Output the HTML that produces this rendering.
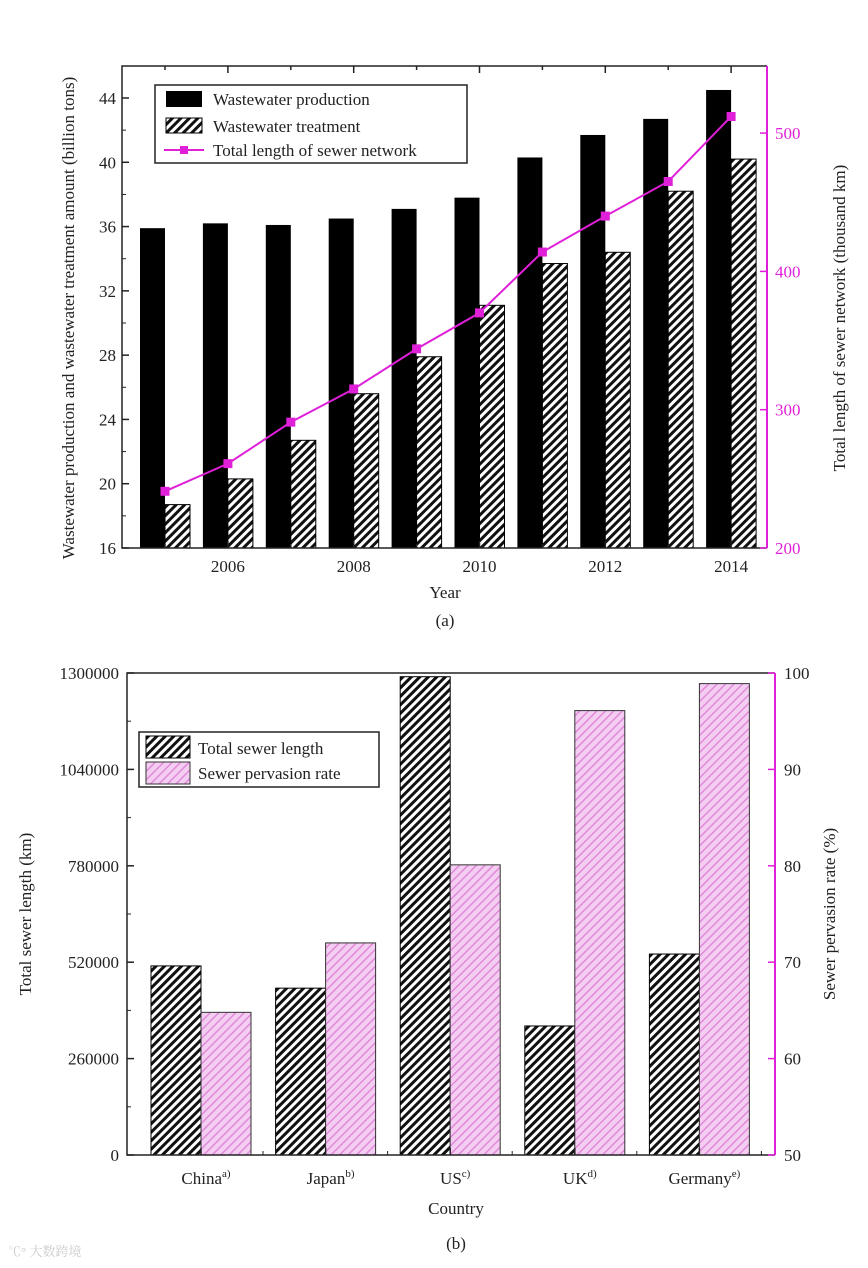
<!DOCTYPE html>
<html><head><meta charset="utf-8"><style>
html,body{margin:0;padding:0;background:#fff;}
svg{display:block;font-family:"Liberation Serif","Noto Serif CJK SC",serif;}
</style></head><body>
<svg id="c" width="868" height="1268" viewBox="0 0 868 1268">
<defs>
<pattern id="hb" patternUnits="userSpaceOnUse" width="6" height="6" patternTransform="rotate(45)"><rect width="6" height="6" fill="#fff"/><rect width="3" height="6" fill="#111"/></pattern>
<pattern id="hp" patternUnits="userSpaceOnUse" width="6" height="6" patternTransform="rotate(45)"><rect width="6" height="6" fill="#f4cdf2"/><rect width="1.5" height="6" fill="#e08ad8"/></pattern>
</defs>
</svg>
<script>
const years=[2005,2006,2007,2008,2009,2010,2011,2012,2013,2014];
const production=[35.9,36.2,36.1,36.5,37.1,37.8,40.3,41.7,42.7,44.5];
const treatment=[18.7,20.3,22.7,25.6,27.9,31.1,33.7,34.4,38.2,40.2];
const sewerNet=[241,261,291,315,344,370,414,440,465,512];
const leftTicksA=[16,20,24,28,32,36,40,44];
const rightTicksA=[200,300,400,500];
const xTicksA=[2006,2008,2010,2012,2014];
const countries=["China","Japan","US","UK","Germany"];
const sups=["a)","b)","c)","d)","e)"];
const sewerLen=[510000,450000,1290000,348000,542000];
const pervRate=[64.8,72,80.1,96.1,98.9];
const leftTicksB=[0,260000,520000,780000,1040000,1300000];
const rightTicksB=[50,60,70,80,90,100];

const svg=document.getElementById('c');const NS='http://www.w3.org/2000/svg';
function el(t,a,p,name){const e=document.createElementNS(NS,t);for(const k in a)e.setAttribute(k,a[k]);


(p||svg).appendChild(e);return e;}
function tx(x,y,s,a,name){const e=el('text',Object.assign({x:x,y:y,'font-size':17,fill:'#222'},a||{}),null,name);e.textContent=s;return e;}

// ---- chart A ----
const A={l:122,r:767,t:66,b:548};
const xa=v=>165+(v-2005)*62.9;
const ya=v=>548-(v-16)*(450/28);
const yr=v=>548-(v-200)*1.383;
years.forEach((y,i)=>{
 el('rect',{x:xa(y)-25,y:ya(production[i]),width:25,height:A.b-ya(production[i]),fill:'#000'},null,'bar-production-'+y);
 el('rect',{x:xa(y),y:ya(treatment[i]),width:25,height:A.b-ya(treatment[i]),fill:'url(#hb)',stroke:'#000','stroke-width':1},null,'bar-treatment-'+y);
});
el('polyline',{points:years.map((y,i)=>xa(y)+','+yr(sewerNet[i])).join(' '),fill:'none',stroke:'#e020d8','stroke-width':2},null,'sewer-network-line');
years.forEach((y,i)=>el('rect',{x:xa(y)-4.5,y:yr(sewerNet[i])-4.5,width:9,height:9,fill:'#e020d8'},null,'sewer-point-'+y));
el('path',{d:`M${A.r},${A.t}H${A.l}V${A.b}H${A.r}`,fill:'none',stroke:'#222','stroke-width':1.5},null,'frame-a');
el('line',{x1:A.r,y1:A.t,x2:A.r,y2:A.b,stroke:'#e020d8','stroke-width':2},null,'right-axis-a');
leftTicksA.forEach(v=>{el('line',{x1:A.l,y1:ya(v),x2:A.l+7,y2:ya(v),stroke:'#222','stroke-width':1.5},null,'left-tick-a');tx(A.l-6,ya(v)+6,String(v),{'text-anchor':'end'},'left-tick-label-a');});
for(let v=18;v<46;v+=4)el('line',{x1:A.l,y1:ya(v),x2:A.l+4,y2:ya(v),stroke:'#222'},null,'minor-tick-a');
rightTicksA.forEach(v=>{el('line',{x1:A.r,y1:yr(v),x2:A.r-7,y2:yr(v),stroke:'#e020d8','stroke-width':1.5},null,'right-tick-a');tx(A.r+8,yr(v)+6,String(v),{fill:'#e020d8'},'right-tick-label-a');});
years.forEach(y=>{el('line',{x1:xa(y),y1:A.b,x2:xa(y),y2:A.b-(y%2?4:7),stroke:'#222','stroke-width':1.5},null,'x-tick-a');el('line',{x1:xa(y),y1:A.t,x2:xa(y),y2:A.t+(y%2?4:7),stroke:'#222','stroke-width':1.5},null,'x-tick-top-a');});
xTicksA.forEach(y=>tx(xa(y),572,String(y),{'text-anchor':'middle'},'x-tick-label-a'));
tx(445,598,'Year',{'text-anchor':'middle'},'x-axis-title-a');
tx(445,626,'(a)',{'text-anchor':'middle'},'caption-a');
tx(0,0,'Wastewater production and wastewater treatment amount (billion tons)',{'text-anchor':'middle',transform:'translate(74,318) rotate(-90)'},'y-axis-title-a');
tx(0,0,'Total length of sewer network (thousand km)',{'text-anchor':'middle',transform:'translate(845,318) rotate(-90)'},'y2-axis-title-a');
el('rect',{x:155,y:85,width:312,height:78,fill:'#fff',stroke:'#222','stroke-width':1.5},null,'legend-a');
el('rect',{x:166,y:91,width:36,height:16,fill:'#000'},null,'legend-swatch-production');
tx(213,105,'Wastewater production',{},'legend-label-production');
el('rect',{x:166,y:118,width:36,height:15,fill:'url(#hb)',stroke:'#000'},null,'legend-swatch-treatment');
tx(213,132,'Wastewater treatment',{},'legend-label-treatment');
el('line',{x1:164,y1:150,x2:204,y2:150,stroke:'#e020d8','stroke-width':2},null,'legend-line-sewer');
el('rect',{x:180,y:146,width:8,height:8,fill:'#e020d8'},null,'legend-marker-sewer');
tx(213,156,'Total length of sewer network',{},'legend-label-sewer');

// ---- chart B ----
const B={l:127,r:775,t:673,b:1155};
const xb=i=>201+i*124.6;
const yb=v=>1155-v*(482/1300000);
const yp=v=>1155-(v-50)*(482/50);
countries.forEach((c,i)=>{
 el('rect',{x:xb(i)-50,y:yb(sewerLen[i]),width:50,height:B.b-yb(sewerLen[i]),fill:'url(#hb)',stroke:'#000'},null,'bar-length-'+c);
 el('rect',{x:xb(i),y:yp(pervRate[i]),width:50,height:B.b-yp(pervRate[i]),fill:'url(#hp)',stroke:'#333'},null,'bar-rate-'+c);
 const t=tx(xb(i)+5,1184,c,{'text-anchor':'middle'},'x-tick-label-b');
 const s=document.createElementNS(NS,'tspan');s.setAttribute('dy','-7');s.setAttribute('font-size','11');s.textContent=sups[i];t.appendChild(s);
 el('line',{x1:xb(i),y1:B.b,x2:xb(i),y2:B.b-7,stroke:'#222','stroke-width':1.5},null,'x-tick-b');
 el('line',{x1:xb(i)+62,y1:B.b,x2:xb(i)+62,y2:B.b-4,stroke:'#222'},null,'x-minor-tick-b');
});
el('path',{d:`M${B.r},${B.t}H${B.l}V${B.b}H${B.r}`,fill:'none',stroke:'#222','stroke-width':1.5},null,'frame-b');
el('line',{x1:B.r,y1:B.t,x2:B.r,y2:B.b,stroke:'#e020d8','stroke-width':2},null,'right-axis-b');
leftTicksB.forEach(v=>{el('line',{x1:B.l,y1:yb(v),x2:B.l+7,y2:yb(v),stroke:'#222','stroke-width':1.5},null,'left-tick-b');tx(B.l-8,yb(v)+6,String(v),{'text-anchor':'end'},'left-tick-label-b');});
for(let v=130000;v<1300000;v+=260000)el('line',{x1:B.l,y1:yb(v),x2:B.l+4,y2:yb(v),stroke:'#222'},null,'minor-tick-b');
rightTicksB.forEach(v=>{el('line',{x1:B.r,y1:yp(v),x2:B.r-7,y2:yp(v),stroke:'#e020d8','stroke-width':1.5},null,'right-tick-b');tx(B.r+9,yp(v)+6,String(v),{},'right-tick-label-b');});
tx(456,1214,'Country',{'text-anchor':'middle'},'x-axis-title-b');
tx(456,1249,'(b)',{'text-anchor':'middle'},'caption-b');
tx(0,0,'Total sewer length (km)',{'text-anchor':'middle',transform:'translate(31,914) rotate(-90)'},'y-axis-title-b');
tx(0,0,'Sewer pervasion rate (%)',{'text-anchor':'middle',transform:'translate(835,914) rotate(-90)'},'y2-axis-title-b');
el('rect',{x:139,y:732,width:240,height:55,fill:'#fff',stroke:'#222','stroke-width':1.5},null,'legend-b');
el('rect',{x:146,y:736,width:44,height:22,fill:'url(#hb)',stroke:'#000'},null,'legend-swatch-length');
tx(198,754,'Total sewer length',{},'legend-label-length');
el('rect',{x:146,y:762,width:44,height:22,fill:'url(#hp)',stroke:'#333'},null,'legend-swatch-rate');
tx(198,779,'Sewer pervasion rate',{},'legend-label-rate');
tx(8,1256,'℃° 大数跨境',{'font-size':13,fill:'#ccc'},'watermark');
</script>
</body></html>
